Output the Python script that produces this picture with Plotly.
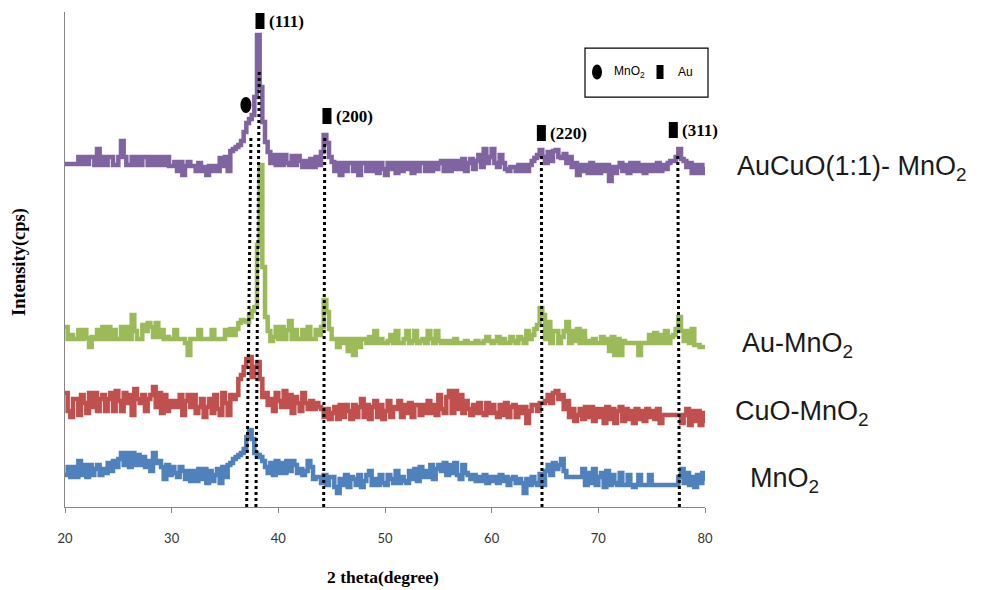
import plotly.graph_objects as go

# 2-theta scan grid (degrees), 0.25 deg step from 20 to 80
two_theta = [20 + 0.25 * i for i in range(241)]

# Stacked intensity traces (arbitrary units, offset for display)
aucuo_mno2 = [
    343, 343, 343, 343, 343, 350, 343, 350, 343, 350, 350, 342, 358, 342, 350, 342,
    350, 350, 342, 342, 350, 366, 350, 342, 342, 350, 342, 350, 342, 350, 350, 342,
    350, 342, 350, 342, 350, 342, 350, 341, 341, 345, 336, 345, 332, 341, 345, 341,
    341, 336, 344, 336, 340, 332, 341, 336, 341, 336, 349, 341, 350, 336, 356, 358,
    360, 362, 366, 375, 384, 388, 392, 410, 472, 420, 385, 365, 355, 344, 352, 342,
    352, 342, 352, 344, 342, 351, 342, 351, 346, 340, 346, 340, 348, 340, 350, 342,
    355, 372, 364, 350, 345, 336, 344, 332, 344, 336, 344, 344, 336, 344, 332, 344,
    344, 336, 344, 336, 344, 334, 344, 338, 332, 344, 338, 344, 334, 344, 336, 344,
    338, 344, 334, 344, 336, 344, 344, 336, 344, 336, 344, 338, 344, 346, 336, 346,
    336, 346, 338, 346, 338, 348, 336, 344, 348, 338, 346, 352, 340, 358, 344, 350,
    358, 344, 340, 352, 344, 338, 336, 340, 340, 336, 342, 336, 342, 336, 342, 346,
    349, 352, 357, 350, 344, 355, 346, 356, 357, 350, 349, 353, 344, 350, 340, 344,
    332, 342, 336, 342, 334, 344, 334, 342, 334, 342, 336, 342, 326, 340, 334, 340,
    344, 336, 342, 334, 344, 336, 344, 336, 342, 334, 342, 336, 342, 336, 344, 336,
    342, 338, 344, 346, 346, 350, 358, 348, 346, 340, 344, 334, 342, 334, 342, 334,
    340,
]
au_mno2 = [
    180, 168, 172, 168, 168, 177, 168, 177, 169, 160, 170, 168, 177, 168, 180, 168,
    180, 168, 177, 168, 168, 180, 168, 180, 168, 192, 176, 168, 168, 182, 176, 184,
    180, 170, 184, 170, 177, 168, 170, 168, 168, 177, 168, 168, 168, 164, 152, 168,
    168, 168, 177, 168, 168, 168, 168, 177, 168, 168, 168, 168, 177, 172, 178, 172,
    178, 184, 187, 186, 185, 190, 196, 200, 262, 342, 240, 190, 176, 166, 170, 180,
    168, 180, 168, 177, 186, 168, 177, 168, 168, 177, 168, 180, 168, 168, 177, 172,
    180, 207, 195, 178, 168, 168, 160, 168, 164, 168, 156, 168, 152, 168, 160, 168,
    168, 164, 170, 164, 176, 164, 168, 164, 164, 166, 172, 164, 176, 164, 164, 168,
    176, 164, 166, 176, 164, 166, 168, 164, 176, 168, 164, 176, 166, 164, 166, 164,
    166, 164, 168, 164, 164, 164, 166, 164, 164, 164, 166, 164, 164, 166, 170, 166,
    164, 166, 170, 164, 168, 164, 164, 170, 166, 164, 170, 168, 164, 176, 168, 172,
    178, 182, 199, 192, 168, 185, 164, 176, 176, 164, 170, 176, 185, 164, 176, 166,
    178, 164, 176, 164, 166, 164, 168, 164, 164, 170, 164, 168, 156, 170, 152, 168,
    152, 166, 164, 164, 164, 164, 164, 152, 164, 164, 164, 172, 164, 174, 164, 172,
    164, 176, 164, 170, 172, 178, 190, 176, 166, 176, 164, 178, 162, 162, 160, 160,
    160,
]
cuo_mno2 = [
    114, 96, 90, 108, 108, 92, 112, 104, 94, 114, 100, 114, 96, 108, 112, 96,
    108, 114, 96, 116, 106, 96, 114, 104, 112, 92, 118, 108, 104, 112, 96, 108,
    112, 120, 100, 114, 94, 112, 96, 106, 100, 106, 100, 112, 92, 106, 112, 100,
    112, 94, 100, 108, 90, 100, 108, 94, 112, 98, 92, 114, 104, 92, 112, 108,
    112, 128, 132, 140, 148, 150, 130, 140, 145, 128, 110, 114, 102, 108, 96, 114,
    106, 100, 116, 100, 112, 94, 110, 104, 96, 114, 104, 98, 106, 98, 104, 100,
    98, 90, 98, 88, 94, 100, 88, 102, 90, 102, 96, 88, 102, 90, 100, 108,
    90, 102, 88, 100, 106, 90, 102, 88, 96, 106, 90, 100, 98, 106, 90, 102,
    94, 104, 90, 102, 102, 92, 102, 94, 106, 94, 102, 92, 112, 98, 94, 110,
    116, 94, 116, 98, 112, 94, 106, 98, 92, 102, 94, 104, 94, 92, 104, 94,
    102, 94, 90, 102, 92, 104, 90, 100, 102, 90, 100, 94, 100, 84, 96, 102,
    102, 96, 104, 104, 106, 112, 104, 114, 116, 108, 112, 98, 106, 90, 98, 86,
    92, 98, 88, 100, 90, 100, 86, 98, 90, 98, 84, 100, 88, 98, 84, 96,
    100, 86, 98, 88, 96, 84, 98, 88, 96, 86, 98, 90, 96, 88, 98, 84,
    92, 92, 92, 92, 92, 92, 92, 84, 92, 98, 82, 96, 86, 96, 82, 94,
    84,
]
mno2 = [
    32, 40, 30, 40, 30, 46, 32, 42, 30, 42, 32, 38, 42, 32, 38, 34,
    44, 36, 46, 40, 48, 54, 42, 54, 40, 54, 42, 52, 42, 50, 40, 46,
    36, 54, 44, 46, 40, 28, 42, 32, 40, 34, 30, 40, 36, 28, 36, 26,
    36, 26, 38, 28, 38, 24, 36, 26, 32, 38, 24, 40, 30, 42, 44, 48,
    50, 52, 54, 58, 70, 77, 68, 54, 52, 50, 46, 40, 34, 44, 32, 46,
    34, 44, 34, 46, 36, 46, 42, 34, 38, 32, 36, 46, 40, 28, 30, 30,
    24, 32, 22, 30, 30, 20, 14, 28, 22, 32, 20, 30, 28, 22, 32, 20,
    26, 32, 36, 22, 28, 22, 32, 24, 22, 32, 28, 24, 36, 24, 30, 26,
    24, 36, 28, 38, 26, 40, 30, 36, 30, 42, 28, 38, 42, 36, 44, 32,
    42, 34, 44, 32, 28, 42, 34, 32, 28, 32, 26, 30, 26, 32, 24, 30,
    26, 30, 24, 32, 26, 30, 22, 28, 30, 24, 28, 24, 14, 28, 22, 30,
    24, 22, 33, 22, 36, 42, 32, 44, 38, 42, 48, 36, 30, 30, 30, 30,
    30, 30, 38, 22, 34, 24, 38, 22, 30, 34, 20, 36, 22, 32, 24, 22,
    34, 22, 22, 32, 22, 20, 22, 32, 22, 22, 22, 32, 22, 22, 22, 22,
    22, 22, 22, 22, 22, 22, 30, 38, 24, 34, 22, 30, 20, 32, 24, 34,
    26,
]

series_names = ["MnO2", "CuO-MnO2", "Au-MnO2", "AuCuO(1:1)-MnO2"]
series_values = [mno2, cuo_mno2, au_mno2, aucuo_mno2]
series_colors = ["#4F81BD", "#C0504D", "#9BBB59", "#8064A2"]

# Reflection guide lines: (2theta at bottom, 2theta at top, top height)
guide_bottom = [37.03, 37.90, 44.25, 64.72, 77.60]
guide_top = [37.43, 38.21, 44.35, 64.66, 77.45]
guide_height = [370, 435, 369, 352, 352]

# Au reflections (label, 2theta, height of marker)
au_labels = ["(111)", "(200)", "(220)", "(311)"]
au_theta = [38.28, 44.56, 64.66, 77.03]
au_height = [486, 391, 374, 377]
mno2_theta = [36.96]
mno2_height = [402]

right_labels = ["AuCuO(1:1)- MnO<sub>2</sub>", "Au-MnO<sub>2</sub>",
                "CuO-MnO<sub>2</sub>", "MnO<sub>2</sub>"]
right_label_y = [339, 162, 94, 27]
right_label_x = [1.047, 1.0547, 1.0438, 1.067]

x_ticks = [20, 30, 40, 50, 60, 70, 80]

fig = go.Figure()
for name, vals, col in zip(series_names, series_values, series_colors):
    fig.add_trace(go.Scatter(x=two_theta, y=vals, mode="lines", name=name,
                             line=dict(color=col, width=4.5, shape="hv"), showlegend=False,
                             hoverinfo="skip"))

for xb, xt, yt in zip(guide_bottom, guide_top, guide_height):
    fig.add_trace(go.Scatter(x=[xb, xt], y=[0, yt], mode="lines",
                             line=dict(color="black", width=3, dash="dot"),
                             showlegend=False, hoverinfo="skip"))

shapes = []
for xt, yt in zip(au_theta, au_height):
    shapes.append(dict(type="rect", xref="x", yref="y", xsizemode="pixel", ysizemode="pixel",
                       xanchor=xt, yanchor=yt, x0=-4.5, x1=4.5, y0=-8, y1=8,
                       fillcolor="black", line=dict(color="black", width=0)))
for xt, yt in zip(mno2_theta, mno2_height):
    shapes.append(dict(type="circle", xref="x", yref="y", xsizemode="pixel", ysizemode="pixel",
                       xanchor=xt, yanchor=yt, x0=-5.5, x1=5.5, y0=-8, y1=8,
                       fillcolor="black", line=dict(color="black", width=0)))
# legend box
shapes.append(dict(type="rect", xref="paper", yref="paper", x0=0.8125, x1=1.0047,
                   y0=0.828, y1=0.927, line=dict(color="black", width=1.2)))
shapes.append(dict(type="circle", xref="paper", yref="paper", xsizemode="pixel", ysizemode="pixel",
                   xanchor=0.8313, yanchor=0.8788, x0=-5, x1=5, y0=-7.5, y1=7.5,
                   fillcolor="black", line=dict(width=0)))
shapes.append(dict(type="rect", xref="paper", yref="paper", xsizemode="pixel", ysizemode="pixel",
                   xanchor=0.9297, yanchor=0.8788, x0=-3.5, x1=3.5, y0=-7, y1=7,
                   fillcolor="black", line=dict(width=0)))

annotations = []
serif = "Liberation Serif"
for lab, xt, yt in zip(au_labels, au_theta, au_height):
    annotations.append(dict(text="<b>" + lab + "</b>", x=xt, y=yt, xref="x", yref="y",
                            xanchor="left", yanchor="middle", xshift=7, showarrow=False,
                            font=dict(family=serif, size=17, color="black")))
for lab, lx, ly in zip(right_labels, right_label_x, right_label_y):
    annotations.append(dict(text=lab, x=lx, y=ly, xref="paper", yref="y",
                            xanchor="left", yanchor="middle", showarrow=False,
                            font=dict(family="Liberation Sans", size=27, color="#1a1a1a")))
annotations.append(dict(text="MnO<sub>2</sub>", x=0.8547, y=0.8788, xref="paper", yref="paper",
                        xanchor="left", yanchor="middle", showarrow=False,
                        font=dict(family="Liberation Sans", size=12, color="black")))
annotations.append(dict(text="Au", x=0.9547, y=0.8788, xref="paper", yref="paper",
                        xanchor="left", yanchor="middle", showarrow=False,
                        font=dict(family="Liberation Sans", size=12, color="black")))
annotations.append(dict(text="<b>2 theta(degree)</b>", x=0.497, y=-0.1414, xref="paper", yref="paper",
                        xanchor="center", yanchor="middle", showarrow=False,
                        font=dict(family=serif, size=17.5, color="black")))
annotations.append(dict(text="<b>Intensity(cps)</b>", x=-0.0703, y=0.495, xref="paper", yref="paper",
                        xanchor="center", yanchor="middle", showarrow=False, textangle=-90,
                        font=dict(family=serif, size=18.5, color="black")))

# page body adds an 8px offset, so the figure is 8px smaller than the window
fig.update_layout(
    width=980, height=582,
    margin=dict(l=57, r=283, t=4, b=83),
    paper_bgcolor="white", plot_bgcolor="white",
    shapes=shapes, annotations=annotations,
    xaxis=dict(range=[20, 80], tickvals=x_ticks, showline=True, linecolor="#868686",
               linewidth=1, ticks="outside", ticklen=5, tickcolor="#868686",
               showgrid=False, zeroline=False, ticklabelstandoff=14,
               tickfont=dict(family="Lato", size=13, color="#333333")),
    yaxis=dict(range=[0, 495], showline=True, linecolor="#868686", linewidth=1,
               showticklabels=False, ticks="", showgrid=False, zeroline=False),
)

fig.write_html("out.html")
